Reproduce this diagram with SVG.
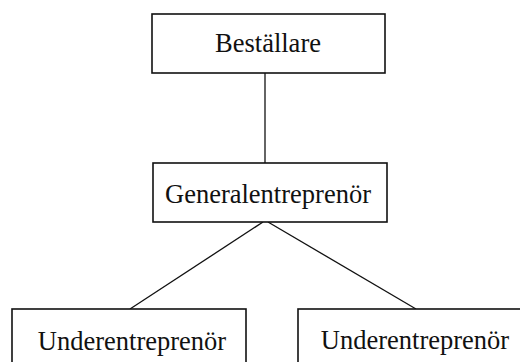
<svg xmlns="http://www.w3.org/2000/svg" width="520" height="362" viewBox="0 0 520 362">
<style>
.box{fill:#fff;stroke:#111;stroke-width:1.6}
.lbl{font-family:"Liberation Serif","Times New Roman",serif;font-size:26.5px;fill:#111;text-anchor:middle}
.con{stroke:#111;stroke-width:1.3;fill:none}
</style>
<rect width="520" height="362" fill="#fff"/>
<g id="connectors">
<line class="con" x1="265" y1="73" x2="265" y2="163"/>
<line class="con" x1="263" y1="222" x2="130" y2="309"/>
<line class="con" x1="268" y1="222" x2="416" y2="309"/>
</g>
<g id="bestallare">
<rect class="box" x="152" y="14" width="233" height="59"/>
<text class="lbl" x="268" y="52">Beställare</text>
</g>
<g id="generalentreprenor">
<rect class="box" x="153" y="163" width="234" height="59"/>
<text class="lbl" x="268" y="203">Generalentreprenör</text>
</g>
<g id="underentreprenor1">
<rect class="box" x="12" y="309" width="234" height="70"/>
<text class="lbl" x="132" y="350">Underentreprenör</text>
</g>
<g id="underentreprenor2">
<rect class="box" x="298" y="309" width="234" height="70"/>
<text class="lbl" x="415" y="349">Underentreprenör</text>
</g>
</svg>
